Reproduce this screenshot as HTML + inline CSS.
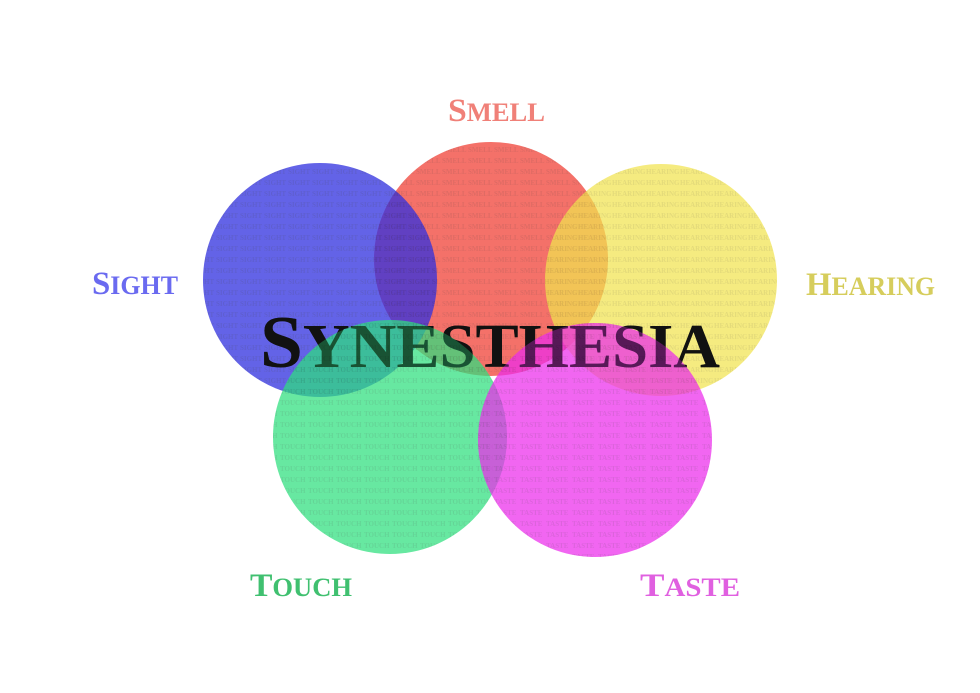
<!DOCTYPE html>
<html><head><meta charset="utf-8"><style>
html,body{margin:0;padding:0;background:#fff;}
svg{display:block;}
</style></head><body>
<svg width="980" height="693" viewBox="0 0 980 693" xmlns="http://www.w3.org/2000/svg">
<defs>
<pattern id="pS" width="24" height="11" patternUnits="userSpaceOnUse"><text x="0" y="9" font-family="Liberation Serif" font-size="7" font-weight="bold" fill="#000" fill-opacity="0.15">SIGHT</text></pattern>
<pattern id="pM" width="26" height="11" patternUnits="userSpaceOnUse"><text x="0" y="9" font-family="Liberation Serif" font-size="7" font-weight="bold" fill="#000" fill-opacity="0.12">SMELL</text></pattern>
<pattern id="pH" width="34" height="11" patternUnits="userSpaceOnUse"><text x="0" y="9" font-family="Liberation Serif" font-size="7" font-weight="bold" fill="#000" fill-opacity="0.1">HEARING</text></pattern>
<pattern id="pT" width="28" height="11" patternUnits="userSpaceOnUse"><text x="0" y="9" font-family="Liberation Serif" font-size="7" font-weight="bold" fill="#000" fill-opacity="0.12">TOUCH</text></pattern>
<pattern id="pA" width="26" height="11" patternUnits="userSpaceOnUse"><text x="0" y="9" font-family="Liberation Serif" font-size="7" font-weight="bold" fill="#000" fill-opacity="0.12">TASTE</text></pattern>
</defs>
<g opacity="0.78"><circle cx="491" cy="259" r="117" fill="#f24a40"/><circle cx="491" cy="259" r="117" fill="url(#pM)"/></g>
<g opacity="0.75"><circle cx="320" cy="280" r="117" fill="#3030e0"/><circle cx="320" cy="280" r="117" fill="url(#pS)"/></g>
<g opacity="0.72"><circle cx="661" cy="280" r="116" fill="#f2e450"/><circle cx="661" cy="280" r="116" fill="url(#pH)"/></g>
<text x="490" y="367" text-anchor="middle" font-family="Liberation Serif" font-weight="bold" font-size="62" textLength="460" lengthAdjust="spacingAndGlyphs" fill="#111"><tspan font-size="74">S</tspan>YNESTHESIA</text>
<g opacity="0.72"><circle cx="390" cy="437" r="117" fill="#2ee07e"/><circle cx="390" cy="437" r="117" fill="url(#pT)"/></g>
<g opacity="0.72"><circle cx="595" cy="440" r="117" fill="#ec2cec"/><circle cx="595" cy="440" r="117" fill="url(#pA)"/></g>
<text x="490" y="367" text-anchor="middle" font-family="Liberation Serif" font-weight="bold" font-size="62" textLength="460" lengthAdjust="spacingAndGlyphs" fill="#111" opacity="0.55"><tspan font-size="74">S</tspan>YNESTHESIA</text>
<g font-family="Liberation Serif" font-weight="bold">
<text x="448" y="121" font-size="26" fill="#f08078" textLength="97" lengthAdjust="spacingAndGlyphs"><tspan font-size="33">S</tspan>MELL</text>
<text x="92" y="294" font-size="26" fill="#6a6af0" textLength="86" lengthAdjust="spacingAndGlyphs"><tspan font-size="33">S</tspan>IGHT</text>
<text x="806" y="295" font-size="26" fill="#d6cd5c" textLength="129" lengthAdjust="spacingAndGlyphs"><tspan font-size="33">H</tspan>EARING</text>
<text x="250" y="596" font-size="26" fill="#40c070" textLength="102" lengthAdjust="spacingAndGlyphs"><tspan font-size="33">T</tspan>OUCH</text>
<text x="640" y="596" font-size="26" fill="#e060e0" textLength="100" lengthAdjust="spacingAndGlyphs"><tspan font-size="33">T</tspan>ASTE</text>
</g>
</svg>
</body></html>
